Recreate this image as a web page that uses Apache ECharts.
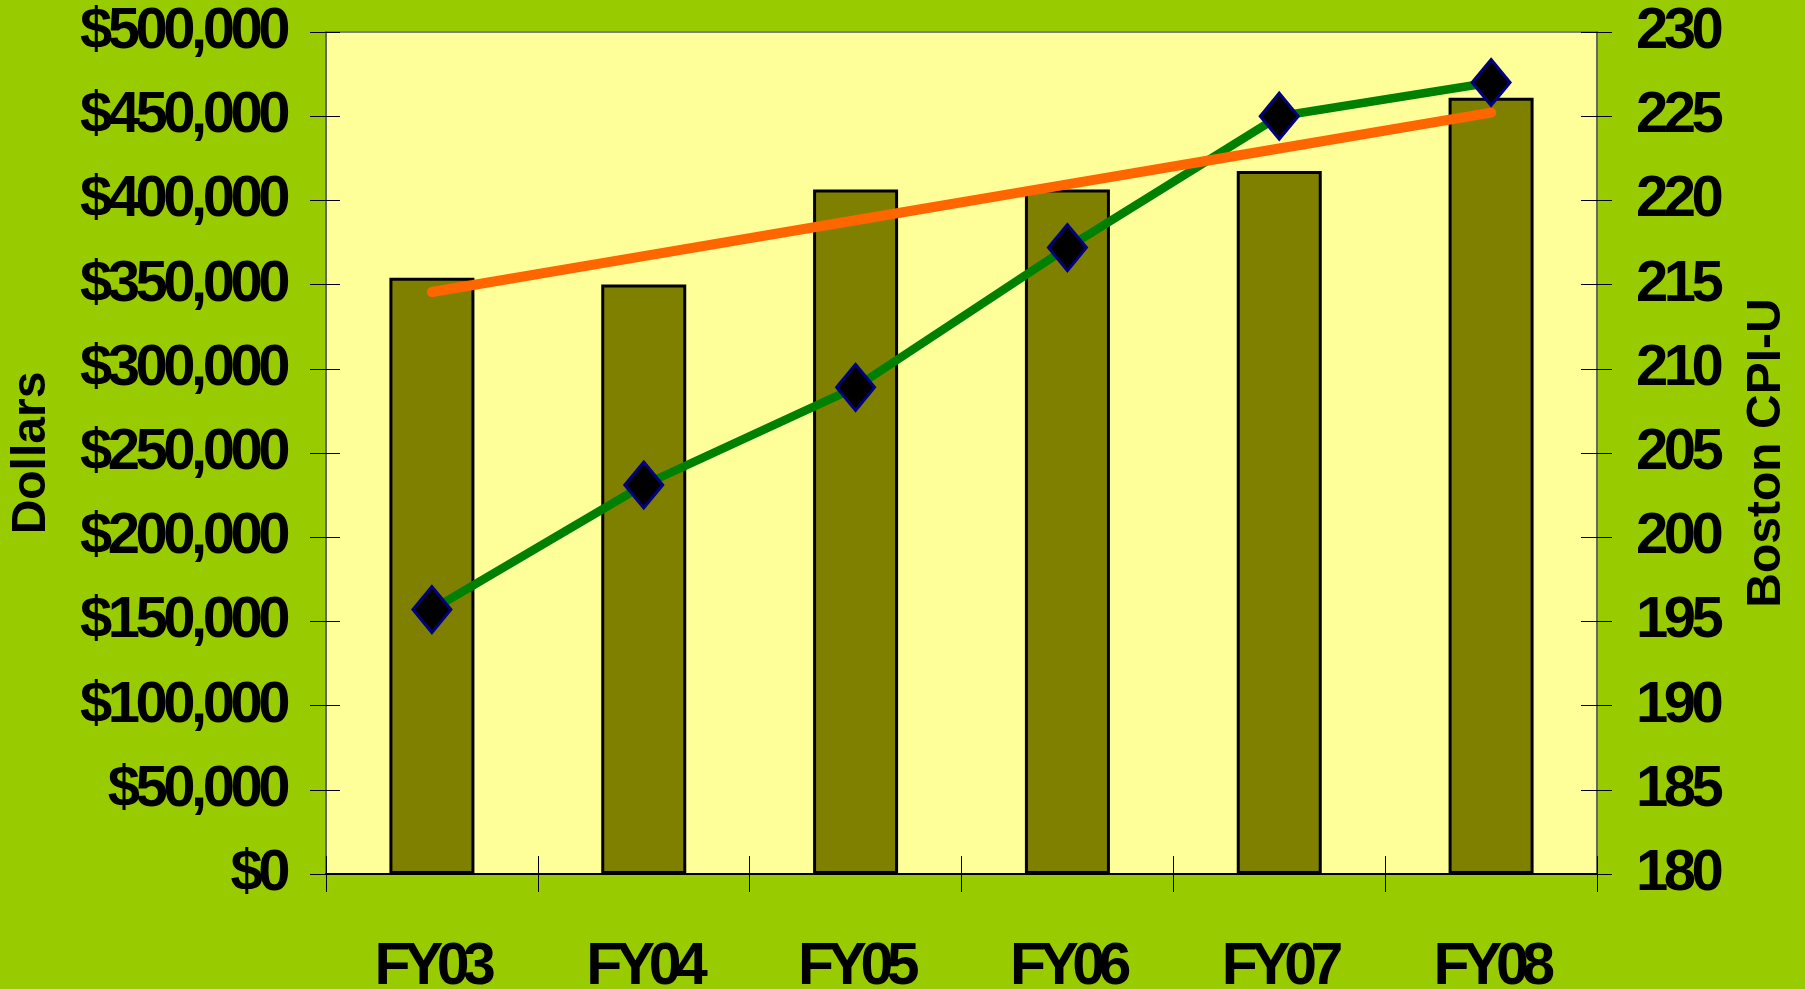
<!DOCTYPE html>
<html>
<head>
<meta charset="utf-8">
<script src="https://cdn.jsdelivr.net/npm/echarts@6/dist/echarts.min.js"></script>
<style>
html,body{margin:0;padding:0;background:#99CC00;}
#chart{width:1805px;height:989px;}
</style>
</head>
<body>
<div id="chart"></div>
<script>
// ---- data ----
const categories = ['FY03', 'FY04', 'FY05', 'FY06', 'FY07', 'FY08'];
const dollars = [354000, 350000, 406500, 406500, 417500, 461000];
const cpi = [195.7, 203.1, 208.9, 217.2, 225.0, 227.0];
const trend = [345600, 366900, 388200, 409500, 430800, 452100];
const leftTickLabels = ['$0', '$50,000', '$100,000', '$150,000', '$200,000', '$250,000',
  '$300,000', '$350,000', '$400,000', '$450,000', '$500,000'];
const rightTickLabels = ['180', '185', '190', '195', '200', '205', '210', '215', '220', '225', '230'];

// tight letter spacing for the big bold tick labels (as in the original slide)
(function () {
  const SPACING = { 58: -4.5, 59: -6.5 };
  const proto = CanvasRenderingContext2D.prototype;
  const origFill = proto.fillText;
  proto.fillText = function (t, x, y, mw) {
    const m = /(\d+(?:\.\d+)?)px/.exec(this.font);
    const s = m && SPACING[Math.round(+m[1])];
    if (s && ('letterSpacing' in this)) {
      const prev = this.letterSpacing;
      this.letterSpacing = s + 'px';
      if (mw === undefined) origFill.call(this, t, x, y); else origFill.call(this, t, x, y, mw);
      this.letterSpacing = prev;
    } else {
      if (mw === undefined) origFill.call(this, t, x, y); else origFill.call(this, t, x, y, mw);
    }
  };
})();

const FONT = "'Liberation Sans', Arial, sans-serif";
const gridRect = { left: 326, right: 208, top: 32, bottom: 115, containLabel: false, outerBoundsMode: 'none' };

const chart = echarts.init(document.getElementById('chart'), null, { renderer: 'canvas' });
chart.setOption({
  backgroundColor: '#99CC00',
  animation: false,
  grid: [
    Object.assign({ show: true, backgroundColor: '#FFFF99', borderColor: '#808080', borderWidth: 2 }, gridRect),
    Object.assign({ show: false }, gridRect)
  ],
  xAxis: [
    {
      type: 'category', data: categories, gridIndex: 0, position: 'bottom',
      axisLine: { show: true, lineStyle: { color: '#000', width: 2 } },
      axisTick: { show: true, inside: false, length: 18, interval: 0, lineStyle: { color: '#000', width: 1 } },
      axisLabel: { show: true, interval: 0, margin: 64, color: '#000', fontFamily: FONT, fontWeight: 'bold', fontSize: 59 },
      splitLine: { show: false }
    },
    {
      type: 'category', data: categories, gridIndex: 1, position: 'bottom',
      axisLine: { show: false },
      axisTick: { show: true, inside: true, length: 18, interval: 0, lineStyle: { color: '#000', width: 1 } },
      axisLabel: { show: false },
      splitLine: { show: false }
    }
  ],
  yAxis: [
    {
      type: 'value', gridIndex: 0, position: 'left', min: 0, max: 500000, interval: 50000,
      name: 'Dollars', nameLocation: 'middle', nameGap: 270, nameMoveOverlap: false,
      nameTextStyle: { color: '#000', fontFamily: FONT, fontWeight: 'bold', fontSize: 48 },
      axisLine: { show: true, lineStyle: { color: '#666', width: 2 } },
      axisTick: { show: true, inside: false, length: 16, lineStyle: { color: '#000', width: 1 } },
      axisLabel: {
        margin: 40, color: '#000', fontFamily: FONT, fontWeight: 'bold', fontSize: 58,
        formatter: function (v) { return leftTickLabels[Math.round(v / 50000)]; }
      },
      splitLine: { show: false }
    },
    {
      type: 'value', gridIndex: 0, position: 'right', min: 180, max: 230, interval: 5,
      name: 'Boston CPI-U', nameLocation: 'middle', nameGap: 146, nameMoveOverlap: false,
      nameTextStyle: { color: '#000', fontFamily: FONT, fontWeight: 'bold', fontSize: 48 },
      axisLine: { show: true, lineStyle: { color: '#666', width: 2 } },
      axisTick: { show: true, inside: false, length: 15, lineStyle: { color: '#000', width: 1 } },
      axisLabel: {
        margin: 39, color: '#000', fontFamily: FONT, fontWeight: 'bold', fontSize: 58,
        formatter: function (v) { return rightTickLabels[Math.round((v - 180) / 5)]; }
      },
      splitLine: { show: false }
    },
    {
      type: 'value', gridIndex: 1, position: 'left', min: 0, max: 500000, interval: 50000,
      axisLine: { show: false },
      axisTick: { show: true, inside: true, length: 14, lineStyle: { color: '#000', width: 1 } },
      axisLabel: { show: false }, splitLine: { show: false }
    },
    {
      type: 'value', gridIndex: 1, position: 'right', min: 180, max: 230, interval: 5,
      axisLine: { show: false },
      axisTick: { show: true, inside: true, length: 16, lineStyle: { color: '#000', width: 1 } },
      axisLabel: { show: false }, splitLine: { show: false }
    }
  ],
  series: [
    {
      type: 'bar', xAxisIndex: 0, yAxisIndex: 0, data: dollars, barWidth: 85,
      itemStyle: { color: '#808000', borderColor: '#000', borderWidth: 3 },
      z: 2
    },
    {
      type: 'line', xAxisIndex: 0, yAxisIndex: 1, data: cpi, symbol: 'none',
      lineStyle: { color: '#008000', width: 8.5 }, z: 3
    },
    {
      type: 'line', xAxisIndex: 0, yAxisIndex: 0, data: trend, symbol: 'none',
      lineStyle: { color: '#FF6600', width: 10, cap: 'round' }, z: 4
    },
    {
      type: 'scatter', xAxisIndex: 0, yAxisIndex: 1, data: cpi, symbol: 'diamond', symbolSize: [38, 46],
      itemStyle: { color: '#000', borderColor: '#000080', borderWidth: 3, opacity: 1 }, z: 5
    }
  ]
});
</script>
</body>
</html>
